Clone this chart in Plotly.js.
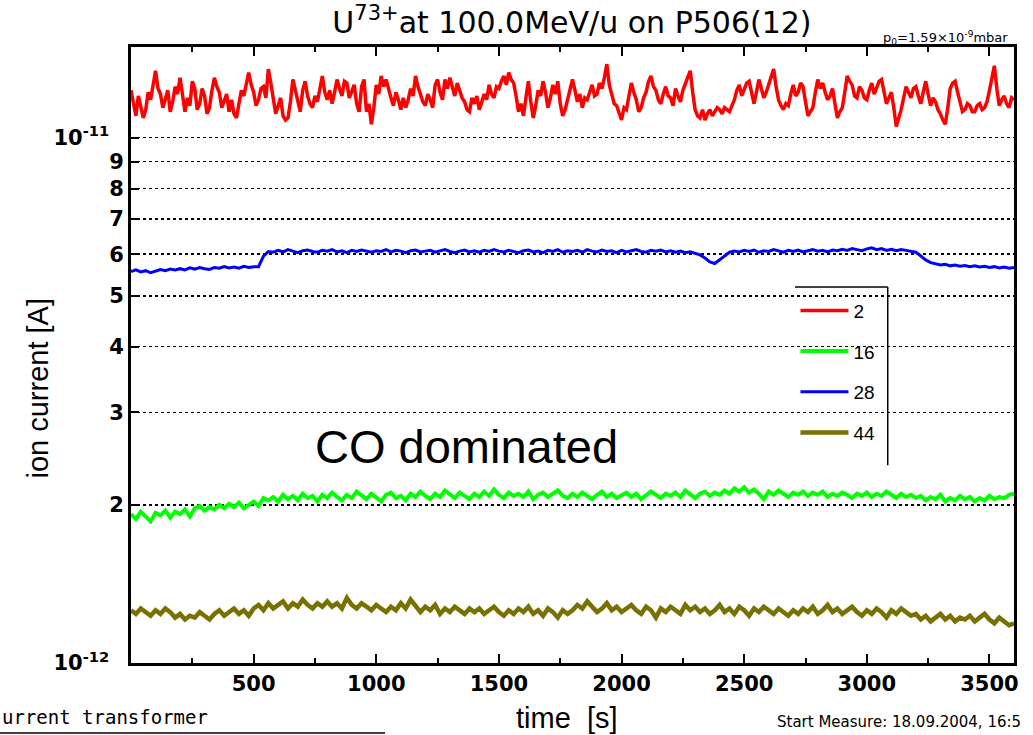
<!DOCTYPE html>
<html>
<head>
<meta charset="utf-8">
<script src="https://cdn.plot.ly/plotly-3.0.1.min.js"></script>
<style>html,body{margin:0;padding:0;background:#fff;}#chart{width:1033px;height:735px;}</style>
</head>
<body>
<div id="chart"></div>
<script>
// sampling grids (s): mass 2 read every 10 s, the others every 20 s
const timeFine = Array.from({length: 361}, (_, i) => i * 10);
const time = Array.from({length: 181}, (_, i) => i * 20);

// ion currents in units of 1e-12 A
const mass2 = [
  12.3, 11.6, 11.0, 12.0, 11.5, 10.9, 11.3, 12.2, 11.8, 12.6, 13.4, 12.4, 12.1, 11.4, 11.9, 12.3, 11.2, 11.7, 12.5, 12.1,
  13.0, 12.2, 11.2, 11.9, 11.5, 12.8, 12.4, 11.3, 11.6, 12.4, 12.0, 11.1, 11.4, 12.3, 13.0, 12.5, 12.2, 11.4, 11.7, 12.1,
  11.2, 11.8, 11.1, 10.9, 11.6, 12.3, 12.0, 12.7, 13.3, 12.6, 12.2, 11.5, 11.8, 12.4, 12.5, 11.9, 13.5, 12.7, 11.7, 11.1,
  11.5, 11.9, 11.0, 10.8, 10.9, 11.7, 12.9, 12.3, 11.6, 11.2, 12.3, 12.8, 12.0, 11.6, 11.4, 12.0, 11.7, 12.5, 13.1, 12.2,
  11.8, 12.3, 11.6, 12.2, 12.9, 12.4, 12.0, 12.8, 12.7, 11.9, 12.2, 12.6, 11.6, 11.2, 12.5, 12.9, 11.2, 11.6, 10.6, 11.4,
  12.6, 12.1, 13.1, 12.5, 12.9, 12.3, 11.9, 11.5, 12.2, 11.8, 11.3, 11.9, 11.4, 11.8, 12.4, 12.0, 13.1, 12.5, 12.1, 11.7,
  11.5, 12.1, 11.8, 11.4, 12.6, 12.9, 12.2, 11.8, 12.9, 12.4, 13.0, 12.5, 12.0, 12.7, 12.3, 11.9, 11.7, 11.3, 11.2, 11.9,
  11.6, 12.0, 11.3, 11.7, 12.1, 11.8, 12.6, 12.1, 11.9, 12.5, 12.4, 12.8, 13.1, 12.6, 13.3, 12.9, 12.7, 12.0, 11.2, 11.6,
  11.0, 11.9, 12.8, 11.7, 10.9, 11.5, 12.3, 12.0, 12.8, 12.2, 11.4, 11.9, 12.6, 12.1, 12.8, 11.6, 11.0, 11.3, 11.8, 12.4,
  12.9, 12.3, 11.7, 12.1, 11.4, 11.9, 11.8, 12.2, 12.6, 12.0, 12.1, 12.7, 12.4, 13.0, 13.8, 12.6, 12.0, 11.6, 11.5, 11.2,
  10.8, 11.4, 11.3, 12.0, 12.7, 12.2, 11.8, 11.2, 11.4, 11.9, 12.2, 12.8, 13.1, 12.5, 12.3, 11.8, 11.6, 12.1, 12.5, 12.0,
  11.9, 11.5, 12.4, 12.0, 11.7, 12.3, 12.7, 13.0, 13.4, 12.2, 11.3, 11.0, 10.9, 11.3, 10.8, 11.1, 11.3, 11.0, 11.2, 11.4,
  11.3, 11.1, 11.4, 11.3, 11.2, 11.5, 11.8, 12.3, 12.6, 12.0, 12.3, 12.7, 12.8, 12.1, 11.6, 12.2, 12.9, 12.4, 11.9, 12.2,
  12.6, 13.1, 13.5, 12.5, 11.8, 11.5, 11.3, 11.6, 11.5, 12.1, 12.6, 12.0, 12.2, 12.7, 12.5, 11.7, 11.0, 11.2, 11.4, 12.2,
  12.9, 12.4, 12.7, 12.2, 11.8, 12.0, 12.4, 11.6, 10.9, 11.2, 11.4, 12.2, 13.1, 12.8, 12.6, 12.0, 11.9, 12.5, 12.3, 11.9,
  11.8, 12.3, 12.7, 12.1, 12.4, 12.8, 12.9, 12.2, 11.6, 11.9, 12.2, 11.4, 10.5, 10.9, 11.3, 11.9, 12.5, 12.2, 11.9, 12.4,
  12.5, 12.0, 11.6, 12.2, 12.8, 12.1, 11.5, 11.9, 11.7, 11.3, 11.1, 10.8, 10.6, 11.4, 12.4, 12.7, 12.8, 12.2, 11.6, 11.2,
  11.3, 11.6, 11.5, 11.2, 11.2, 11.5, 11.6, 11.3, 11.4, 11.7, 12.3, 12.9, 13.7, 12.4, 11.5, 11.8, 12.0, 11.6, 11.4, 11.9,
  11.8
];

const mass16 = [
  1.92, 1.88, 1.94, 1.90, 1.86, 1.93, 1.91, 1.95, 1.89, 1.94,
  1.92, 1.96, 1.90, 1.97, 1.99, 1.95, 1.98, 1.96, 2.00, 1.97,
  2.01, 1.98, 2.02, 1.97, 2.00, 2.03, 1.99, 2.06, 2.04, 2.07,
  2.03, 2.09, 2.05, 2.08, 2.04, 2.10, 2.06, 2.08, 2.03, 2.09,
  2.06, 2.11, 2.07, 2.04, 2.09, 2.06, 2.12, 2.08, 2.05, 2.10,
  2.07, 2.03, 2.09, 2.11, 2.06, 2.08, 2.04, 2.10, 2.07, 2.12,
  2.08, 2.05, 2.10, 2.07, 2.13, 2.09, 2.06, 2.11, 2.08, 2.05,
  2.10, 2.07, 2.12, 2.08, 2.14, 2.09, 2.06, 2.11, 2.08, 2.10,
  2.07, 2.12, 2.05, 2.09, 2.11, 2.07, 2.10, 2.13, 2.08, 2.06,
  2.10, 2.07, 2.11, 2.08, 2.05, 2.09, 2.12, 2.07, 2.10, 2.06,
  2.09, 2.11, 2.07, 2.10, 2.05, 2.08, 2.12, 2.09, 2.06, 2.10,
  2.08, 2.11, 2.07, 2.13, 2.09, 2.06, 2.10, 2.12, 2.08, 2.11,
  2.09, 2.13, 2.10, 2.15, 2.12, 2.16, 2.11, 2.14, 2.10, 2.05,
  2.12, 2.09, 2.13, 2.10, 2.07, 2.11, 2.09, 2.12, 2.08, 2.11,
  2.09, 2.12, 2.07, 2.10, 2.08, 2.11, 2.09, 2.06, 2.10, 2.08,
  2.11, 2.07, 2.10, 2.08, 2.12, 2.09, 2.06, 2.10, 2.07, 2.09,
  2.06, 2.08, 2.04, 2.07, 2.05, 2.09, 2.03, 2.06, 2.04, 2.08,
  2.05, 2.07, 2.03, 2.06, 2.04, 2.08, 2.05, 2.07, 2.06, 2.09,
  2.10
];

const mass28 = [
  5.56, 5.60, 5.55, 5.58, 5.53, 5.57, 5.61, 5.58, 5.62, 5.60,
  5.63, 5.60, 5.65, 5.62, 5.66, 5.63, 5.61, 5.66, 5.64, 5.68,
  5.65, 5.67, 5.64, 5.69, 5.66, 5.68, 5.68, 5.95, 6.07, 6.05,
  6.10, 6.06, 6.12, 6.08, 6.04, 6.09, 6.11, 6.07, 6.05, 6.10,
  6.08, 6.12, 6.06, 6.09, 6.04, 6.10, 6.07, 6.11, 6.08, 6.05,
  6.09, 6.07, 6.12, 6.06, 6.10, 6.08, 6.04, 6.09, 6.11, 6.06,
  6.08, 6.10, 6.05, 6.09, 6.12, 6.07, 6.04, 6.08, 6.11, 6.06,
  6.09, 6.05, 6.10, 6.07, 6.12, 6.08, 6.06, 6.10, 6.07, 6.04,
  6.09, 6.11, 6.06, 6.08, 6.04, 6.10, 6.07, 6.12, 6.05, 6.09,
  6.07, 6.10, 6.05, 6.12, 6.08, 6.06, 6.11, 6.07, 6.09, 6.04,
  6.10, 6.06, 6.09, 6.12, 6.07, 6.05, 6.10, 6.08, 6.11, 6.06,
  6.09, 6.05, 6.08, 6.04, 6.06, 6.02, 5.98, 5.90, 5.80, 5.76,
  5.86, 5.97, 6.05, 6.08, 6.06, 6.10, 6.07, 6.11, 6.05, 6.09,
  6.07, 6.12, 6.08, 6.05, 6.10, 6.07, 6.11, 6.06, 6.09, 6.12,
  6.08, 6.10, 6.06, 6.11, 6.09, 6.13, 6.10, 6.15, 6.12, 6.09,
  6.14, 6.17, 6.12, 6.15, 6.10, 6.13, 6.09, 6.12, 6.10, 6.07,
  6.05, 5.95, 5.85, 5.78, 5.75, 5.72, 5.74, 5.70, 5.72, 5.69,
  5.71, 5.68, 5.70, 5.67, 5.69, 5.66, 5.68, 5.65, 5.67, 5.64,
  5.66
];

const mass44 = [
  1.26, 1.24, 1.27, 1.25, 1.23, 1.26, 1.24, 1.27, 1.25, 1.22,
  1.24, 1.21, 1.23, 1.22, 1.25, 1.23, 1.21, 1.24, 1.26, 1.23,
  1.25, 1.27, 1.24, 1.26, 1.23, 1.27, 1.29, 1.26, 1.30, 1.27,
  1.29, 1.31, 1.27, 1.30, 1.28, 1.32, 1.29, 1.27, 1.30, 1.28,
  1.31, 1.28, 1.30, 1.27, 1.33, 1.29, 1.27, 1.30, 1.28, 1.26,
  1.29, 1.27, 1.25, 1.28, 1.26, 1.30, 1.27, 1.32, 1.28, 1.25,
  1.28, 1.26, 1.29, 1.24, 1.27, 1.25, 1.28, 1.26, 1.24, 1.27,
  1.25, 1.27, 1.24, 1.26, 1.28, 1.25, 1.23, 1.26, 1.24, 1.27,
  1.25, 1.28, 1.24, 1.26, 1.23, 1.27, 1.25, 1.22, 1.26, 1.24,
  1.26, 1.29, 1.27, 1.31, 1.28, 1.25, 1.27, 1.30, 1.26, 1.28,
  1.25, 1.27, 1.29, 1.26, 1.24, 1.28, 1.26, 1.22, 1.27, 1.25,
  1.28, 1.26, 1.24, 1.29, 1.26, 1.28, 1.25, 1.27, 1.24, 1.26,
  1.29, 1.25, 1.27, 1.24, 1.28, 1.26, 1.23, 1.27, 1.25, 1.28,
  1.26, 1.24, 1.27, 1.25, 1.23, 1.26, 1.24, 1.27, 1.25, 1.28,
  1.24, 1.26, 1.29, 1.25, 1.27, 1.24, 1.26, 1.28, 1.25, 1.23,
  1.26, 1.24, 1.27, 1.25, 1.22, 1.26, 1.24, 1.27, 1.25, 1.23,
  1.24, 1.21, 1.23, 1.20, 1.22, 1.24, 1.21, 1.23, 1.20, 1.22,
  1.21, 1.23, 1.20, 1.22, 1.24, 1.21, 1.19, 1.22, 1.20, 1.18,
  1.19
];

const seriesNames = ['2', '16', '28', '44'];
const seriesColors = ['#ff0000', '#00ff00', '#0000ff', '#787000'];
const seriesTimes = [timeFine, time, time, time];
const seriesValues = [mass2, mass16, mass28, mass44];
const seriesWidths = [3.5, 4, 3, 4.5];

const xTickVals = [500, 1000, 1500, 2000, 2500, 3000, 3500];
const yTickVals = [1, 2, 3, 4, 5, 6, 7, 8, 9, 10];
const yTickText = ['10<sup>-12</sup>\u00a0\u00a0', '2', '3', '4', '5', '6', '7', '8', '9', '10<sup>-11</sup>\u00a0\u00a0'];

const traces = seriesNames.map((name, i) => ({
  x: seriesTimes[i],
  y: seriesValues[i],
  type: 'scatter',
  mode: 'lines',
  name: name,
  legendgroup: 'g' + i,
  line: {color: seriesColors[i], width: seriesWidths[i]}
}));

const tickFont = {family: 'DejaVu Sans', size: 21, color: '#000', weight: 'bold'};

const layout = {
  width: 1033,
  height: 735,
  margin: {l: 131, r: 19, t: 47, b: 72, pad: 0},
  paper_bgcolor: '#fff',
  plot_bgcolor: '#fff',
  font: {family: 'Liberation Sans', color: '#000'},
  showlegend: true,
  title: {
    text: 'U<sup>73+</sup>at 100.0MeV/u on P506(12)',
    font: {family: 'DejaVu Sans', size: 30, color: '#000'},
    x: 0.5537, xanchor: 'center', xref: 'container',
    y: 0.970, yanchor: 'middle', yref: 'container'
  },
  xaxis: {
    type: 'linear',
    range: [0, 3600],
    tickmode: 'array',
    tickvals: xTickVals,
    ticks: 'inside',
    ticklen: 9,
    tickwidth: 2,
    tickcolor: '#000',
    minor: {tickmode: 'linear', tick0: 0, dtick: 250, ticks: 'inside', ticklen: 5, tickwidth: 2, tickcolor: '#000', showgrid: false},
    showgrid: false,
    zeroline: false,
    showline: true,
    linewidth: 3,
    linecolor: '#000',
    mirror: 'ticks',
    tickfont: tickFont
  },
  yaxis: {
    type: 'log',
    range: [0, 1.1724],
    tickmode: 'array',
    tickvals: yTickVals,
    ticktext: yTickText,
    ticks: 'inside',
    ticklen: 8,
    tickwidth: 2,
    tickcolor: '#000',
    showgrid: true,
    gridcolor: '#000',
    gridwidth: 1.5,
    griddash: 'dot',
    zeroline: false,
    showline: true,
    linewidth: 3,
    linecolor: '#000',
    mirror: true,
    tickfont: tickFont
  },
  legend: {
    x: 0.7525, xanchor: 'left',
    y: 0.603, yanchor: 'top',
    bgcolor: 'rgba(0,0,0,0)',
    borderwidth: 0,
    font: {family: 'Liberation Sans', size: 19, color: '#000'},
    tracegroupgap: 13,
    itemwidth: 48
  },
  shapes: [
    {type: 'rect', xref: 'paper', yref: 'paper', x0: 0.752, x1: 0.857, y0: 0.315, y1: 0.6104,
     fillcolor: '#fff', line: {width: 0}, layer: 'between'},
    {type: 'line', xref: 'paper', yref: 'paper', x0: 0.752, x1: 0.857, y0: 0.6104, y1: 0.6104,
     line: {color: '#000', width: 1.5}},
    {type: 'line', xref: 'paper', yref: 'paper', x0: 0.857, x1: 0.857, y0: 0.6104, y1: 0.321,
     line: {color: '#000', width: 1.5}},
    {type: 'line', xref: 'paper', yref: 'paper', x0: -0.15, x1: 0.2877, y0: -0.1136, y1: -0.1136,
     line: {color: '#000', width: 1.5}}
  ],
  annotations: [
    {text: 'ion current [A]', xref: 'paper', yref: 'paper', x: -0.105, y: 0.446, textangle: -90,
     xanchor: 'center', yanchor: 'middle', showarrow: false,
     font: {family: 'Liberation Sans', size: 29, color: '#000'}},
    {text: 'time  [s]', xref: 'paper', yref: 'paper', x: 0.4938, y: -0.0893,
     xanchor: 'center', yanchor: 'middle', showarrow: false,
     font: {family: 'Liberation Sans', size: 29, color: '#000'}},
    {text: 'p<sub>0</sub>=1.59×10<sup>-9</sup>mbar', xref: 'paper', yref: 'paper', x: 0.996, y: 1.0146,
     xanchor: 'right', yanchor: 'middle', showarrow: false,
     font: {family: 'DejaVu Sans', size: 13, color: '#000'}},
    {text: 'CO dominated', xref: 'paper', yref: 'paper', x: 0.3795, y: 0.351,
     xanchor: 'center', yanchor: 'middle', showarrow: false,
     font: {family: 'Liberation Sans', size: 47, color: '#000'}},
    {text: 'Start Measure: 18.09.2004, 16:5', xref: 'paper', yref: 'paper', x: 0.729, y: -0.095,
     xanchor: 'left', yanchor: 'middle', showarrow: false,
     font: {family: 'DejaVu Sans', size: 15, color: '#000'}},
    {text: 'urrent transformer', xref: 'paper', yref: 'paper', x: -0.1484, y: -0.088,
     xanchor: 'left', yanchor: 'middle', showarrow: false,
     font: {family: 'DejaVu Sans Mono', size: 19, color: '#000'}}
  ]
};

Plotly.newPlot('chart', traces, layout, {staticPlot: true, displayModeBar: false});
</script>
</body>
</html>
